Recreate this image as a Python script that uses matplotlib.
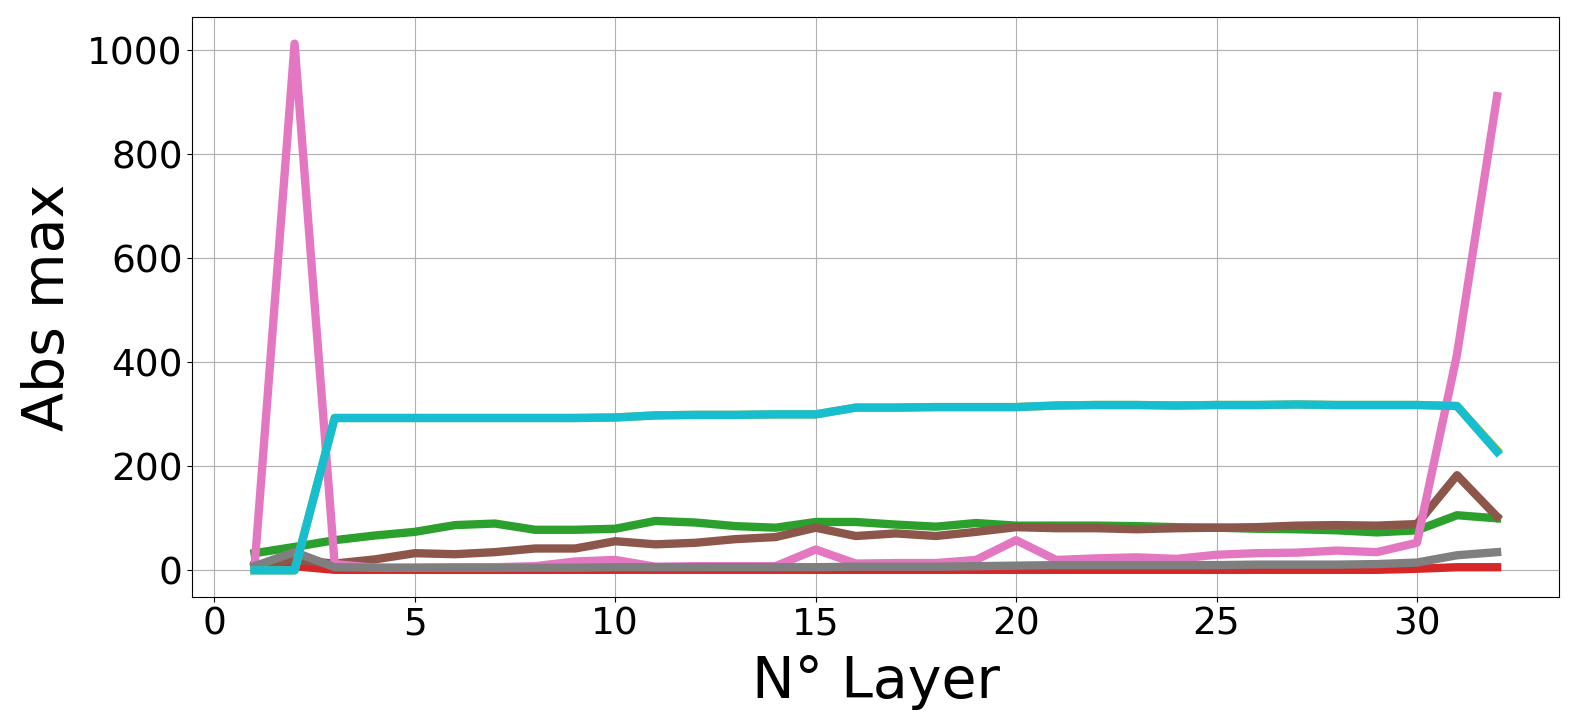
import matplotlib
matplotlib.use('Agg')
import matplotlib.pyplot as plt
import numpy as np

SMALL_SIZE = 27
BIGGER_SIZE = 41

plt.rc('font', size=SMALL_SIZE)
plt.rc('axes', labelsize=BIGGER_SIZE)
plt.rc('xtick', labelsize=SMALL_SIZE)
plt.rc('ytick', labelsize=SMALL_SIZE)

layers = np.arange(1, 33)

green = [33, 45, 58, 67, 74, 87, 90, 78, 78, 80, 95, 92, 85, 82, 93, 93,
         88, 84, 91, 86, 86, 86, 85, 83, 82, 80, 79, 77, 73, 77, 106, 100]
red = [3, 8, 1, 1, 1, 1, 1, 1, 1, 1, 1, 1, 1, 1, 1, 1,
       1, 1, 1, 1, 1, 1, 1, 1, 1, 1, 1, 1, 1, 3, 6, 6]
brown = [10, 20, 13, 21, 33, 31, 35, 42, 42, 56, 50, 53, 60, 64, 82, 66,
         71, 66, 74, 83, 81, 81, 79, 81, 82, 83, 86, 87, 86, 89, 183, 103]
pink = [5, 1013, 12, 5, 5, 6, 6, 8, 17, 20, 7, 8, 8, 8, 40, 13,
        14, 14, 20, 58, 20, 23, 25, 22, 30, 33, 34, 38, 35, 53, 415, 912]
gray = [8, 35, 6, 5, 5, 5, 5, 5, 5, 6, 6, 6, 6, 6, 6, 7,
        7, 7, 8, 9, 10, 10, 10, 10, 10, 11, 11, 11, 12, 15, 29, 35]
olive = [0, 0, 293, 293, 293, 293, 293, 293, 293, 294, 298, 299, 299, 300, 300, 313,
         313, 314, 314, 314, 317, 318, 318, 317, 318, 318, 319, 318, 318, 318, 316, 231]
cyan = [0, 0, 293, 293, 293, 293, 293, 293, 293, 294, 298, 299, 299, 300, 300, 313,
        313, 314, 314, 314, 317, 318, 318, 317, 318, 318, 319, 318, 318, 318, 316, 228]

series = [(green, 'tab:green'), (red, 'tab:red'), (brown, 'tab:brown'),
          (pink, 'tab:pink'), (gray, 'tab:gray'), (olive, 'tab:olive'),
          (cyan, 'tab:cyan')]

fig = plt.figure(figsize=(15.78, 7.28), dpi=100)
ax = fig.add_axes([0.1219, 0.1804, 0.8662, 0.7958])
for vals, c in series:
    ax.plot(layers, vals, color=c, linewidth=6)
ax.grid(True)
ax.set_axisbelow(True)
ax.set_xlabel('N° Layer', labelpad=9)
ax.set_ylabel('Abs max', labelpad=8)
fig.savefig('out.png', dpi=100)
